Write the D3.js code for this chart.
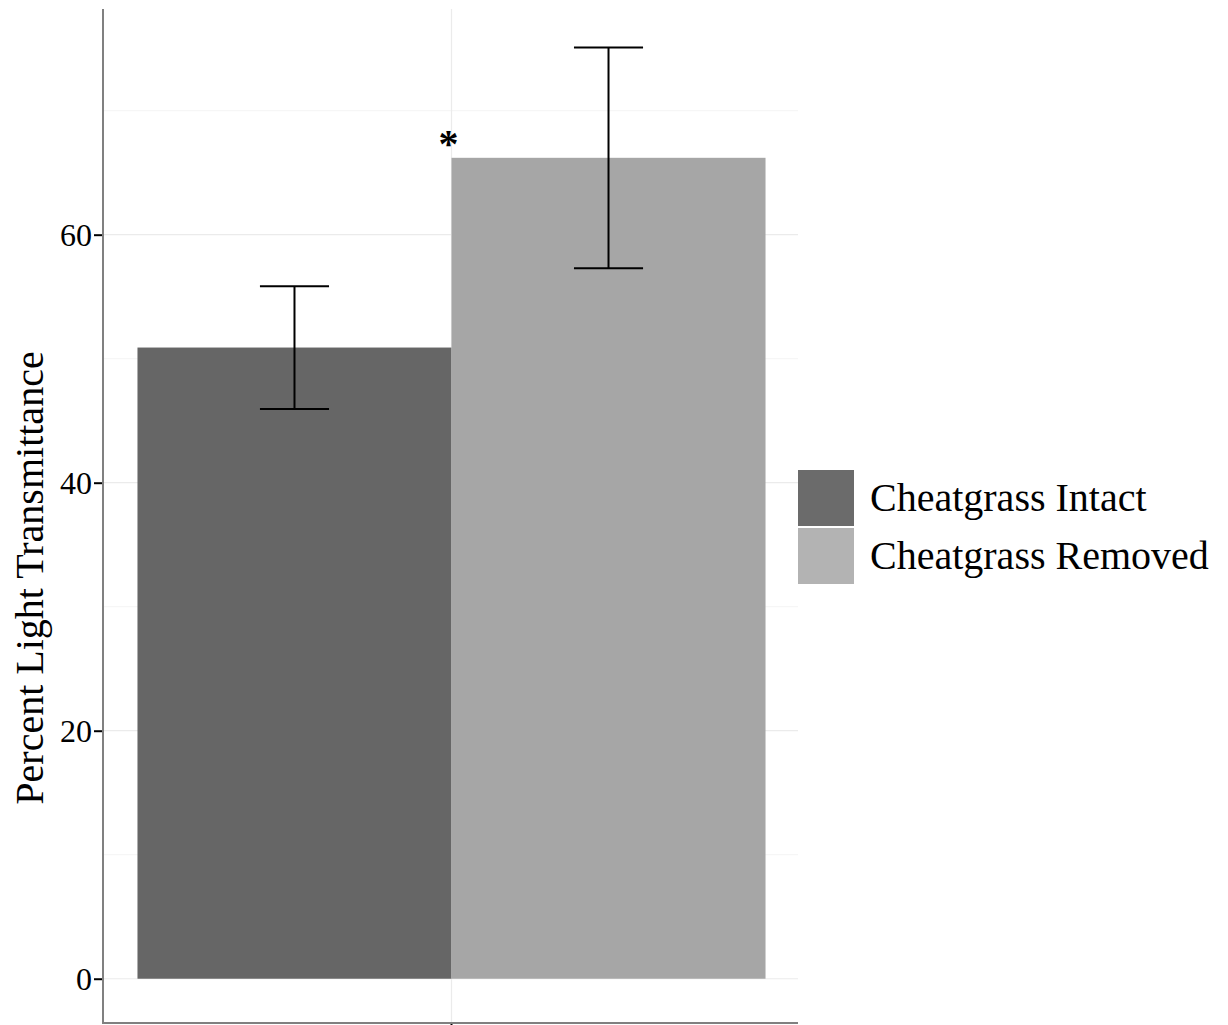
<!DOCTYPE html>
<html>
<head>
<meta charset="utf-8">
<script src="https://cdn.jsdelivr.net/npm/d3@7"></script>
<style>
  html, body { margin: 0; padding: 0; background: #ffffff; }
  svg { display: block; }
</style>
</head>
<body>
<svg id="chart" width="1228" height="1025"></svg>
<script>
// Treatment groups and their mean light transmittance (%) with error half-widths
const groups = ["Cheatgrass Intact", "Cheatgrass Removed"];
const means = [50.9, 66.2];
const errors = [4.95, 8.9];
const significance = ["", "*"];
const yTicks = [0, 20, 40, 60];
const yMinorTicks = [10, 30, 50, 70];
const yTitle = "Percent Light Transmittance";

const serif = "'Liberation Serif', 'Times New Roman', serif";
const svg = d3.select("#chart");

// panel box
const panel = { left: 103, right: 798, top: 9, bottom: 1023 };

const y = d3.scaleLinear()
  .domain([-3.57, 78.2])
  .range([panel.bottom, panel.top]);

// one category on x; bars are dodged within it
const x = d3.scaleBand()
  .domain([""])
  .range([panel.left + 1, panel.right + 1])
  .paddingInner(0)
  .paddingOuter(0.0533);

const xSub = d3.scaleBand()
  .domain(groups)
  .range([0, x.bandwidth()])
  .padding(0);

const barFill = d3.scaleOrdinal().domain(groups).range(["#666666", "#a6a6a6"]);
const keyFill = d3.scaleOrdinal().domain(groups).range(["#6b6b6b", "#b3b3b3"]);

const data = groups.map((g, i) => ({ group: g, mean: means[i], err: errors[i], sig: significance[i] }));

// grid lines
const grid = svg.append("g");
grid.selectAll("line.minor")
  .data(yMinorTicks)
  .join("line")
  .attr("x1", panel.left).attr("x2", panel.right)
  .attr("y1", d => y(d)).attr("y2", d => y(d))
  .attr("stroke", "#f4f4f4").attr("stroke-width", 1);
grid.selectAll("line.major")
  .data(yTicks)
  .join("line")
  .attr("x1", panel.left).attr("x2", panel.right)
  .attr("y1", d => y(d)).attr("y2", d => y(d))
  .attr("stroke", "#ebebeb").attr("stroke-width", 1.2);
grid.append("line")
  .attr("x1", x("") + x.bandwidth() / 2).attr("x2", x("") + x.bandwidth() / 2)
  .attr("y1", panel.top).attr("y2", panel.bottom)
  .attr("stroke", "#ebebeb").attr("stroke-width", 1.2);

// bars
svg.append("g").selectAll("rect")
  .data(data)
  .join("rect")
  .attr("x", d => x("") + xSub(d.group))
  .attr("width", xSub.bandwidth())
  .attr("y", d => y(d.mean))
  .attr("height", d => y(0) - y(d.mean))
  .attr("fill", d => barFill(d.group));

// error bars
const capHalf = xSub.bandwidth() * 0.11;
const eb = svg.append("g").attr("stroke", "#000").attr("stroke-width", 2).attr("fill", "none");
data.forEach(d => {
  const cx = x("") + xSub(d.group) + xSub.bandwidth() / 2;
  const hi = y(d.mean + d.err), lo = y(d.mean - d.err);
  eb.append("line").attr("x1", cx).attr("x2", cx).attr("y1", hi).attr("y2", lo);
  eb.append("line").attr("x1", cx - capHalf).attr("x2", cx + capHalf).attr("y1", hi).attr("y2", hi);
  eb.append("line").attr("x1", cx - capHalf).attr("x2", cx + capHalf).attr("y1", lo).attr("y2", lo);
});

// significance marker at the left edge of the marked bar
svg.append("g").selectAll("text")
  .data(data.filter(d => d.sig))
  .join("text")
  .attr("x", d => x("") + xSub(d.group) - 3)
  .attr("y", d => y(d.mean) - 1)
  .attr("text-anchor", "middle")
  .attr("font-family", serif)
  .attr("font-size", 40)
  .attr("font-weight", "bold")
  .attr("fill", "#000")
  .text(d => d.sig);

// y axis
const yAxis = d3.axisLeft(y)
  .tickValues(yTicks)
  .tickSize(9)
  .tickPadding(2)
  .tickFormat(d3.format("d"));
const gy = svg.append("g").attr("transform", `translate(${panel.left},0)`).call(yAxis)
  .attr("font-family", serif).attr("font-size", 32);
gy.select(".domain").remove();
gy.selectAll(".tick line").attr("stroke", "#000").attr("stroke-width", 2);
gy.selectAll(".tick text")
  .attr("fill", "#000")
  .attr("dy", "0.34em");

// x axis (single unlabeled category)
const xAxis = d3.axisBottom(x).tickSize(9).tickFormat(() => "");
const gx = svg.append("g").attr("transform", `translate(0,${panel.bottom})`).call(xAxis);
gx.select(".domain").remove();
gx.selectAll(".tick line").attr("stroke", "#000").attr("stroke-width", 2);

// axis lines
svg.append("line")
  .attr("x1", panel.left).attr("x2", panel.left)
  .attr("y1", panel.top).attr("y2", panel.bottom + 1)
  .attr("stroke", "#808080").attr("stroke-width", 2);
svg.append("line")
  .attr("x1", panel.left - 1).attr("x2", panel.right)
  .attr("y1", panel.bottom).attr("y2", panel.bottom)
  .attr("stroke", "#808080").attr("stroke-width", 2);

// y title
svg.append("text")
  .attr("transform", `translate(43,${(panel.top + panel.bottom) / 2 + 62}) rotate(-90)`)
  .attr("text-anchor", "middle")
  .attr("font-family", serif)
  .attr("font-size", 40)
  .attr("fill", "#000")
  .text(yTitle);

// legend
const legend = svg.append("g").attr("transform", "translate(798,470)");
const keySize = 56, keyGap = 2;
const items = legend.selectAll("g")
  .data(groups)
  .join("g")
  .attr("transform", (d, i) => `translate(0,${i * (keySize + keyGap)})`);
items.append("rect")
  .attr("width", keySize).attr("height", keySize)
  .attr("fill", d => keyFill(d));
items.append("text")
  .attr("x", 72)
  .attr("y", keySize / 2)
  .attr("dy", "0.33em")
  .attr("font-family", serif)
  .attr("font-size", 40)
  .attr("fill", "#000")
  .text(d => d);
</script>
</body>
</html>
